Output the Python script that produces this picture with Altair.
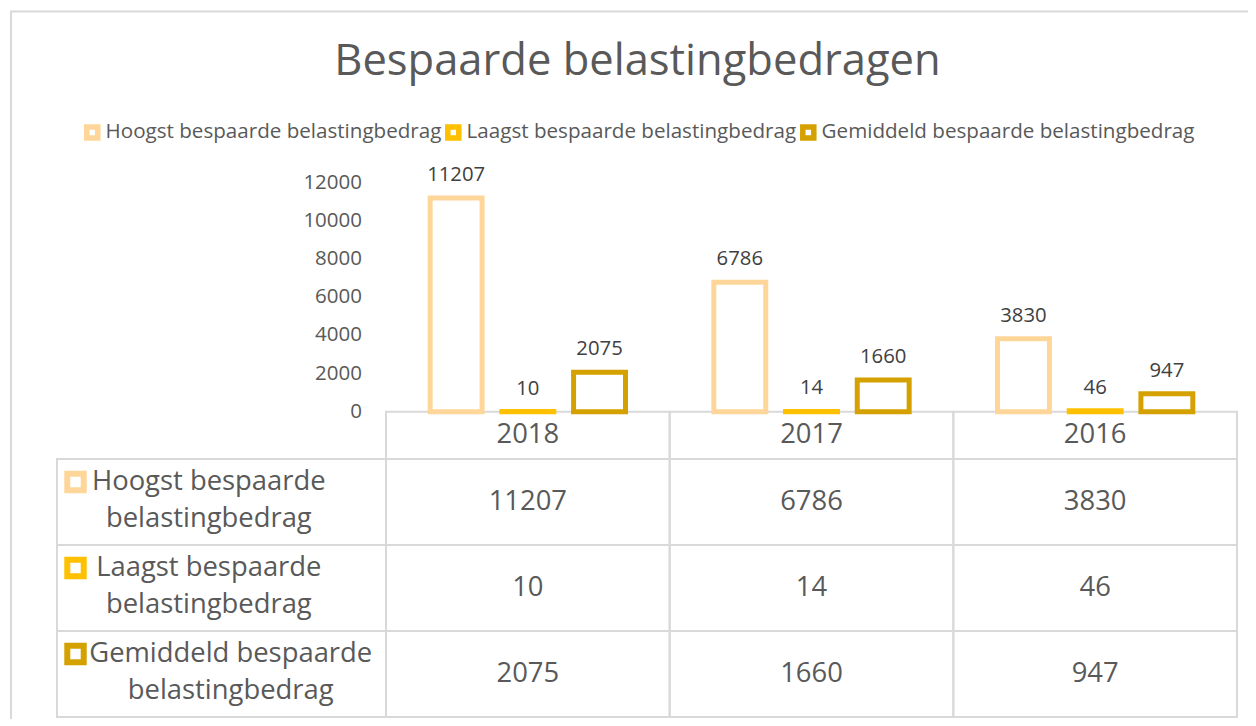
import altair as alt
import pandas as pd

# ---- data -------------------------------------------------------------
years = ["2018", "2017", "2016"]
series = [
    "Hoogst bespaarde belastingbedrag",
    "Laagst bespaarde belastingbedrag",
    "Gemiddeld bespaarde belastingbedrag",
]
row_line1 = ["Hoogst bespaarde", "Laagst bespaarde", "Gemiddeld bespaarde"]
row_line2 = ["belastingbedrag", "belastingbedrag", "belastingbedrag"]
hoogst = [11207, 6786, 3830]
laagst = [10, 14, 46]
gemiddeld = [2075, 1660, 947]
y_ticks = [0, 2000, 4000, 6000, 8000, 10000, 12000]
colors = ["#FFD699", "#FFC000", "#D4A100"]
chart_title = "Bespaarde belastingbedragen"

# ---- tables built from the arrays ----------------------------------------
values = [hoogst, laagst, gemiddeld]
long_df = pd.DataFrame(
    [
        {"series": s, "year": y, "value": values[i][j]}
        for i, s in enumerate(series)
        for j, y in enumerate(years)
    ]
)
rows_df = pd.DataFrame({"series": series, "l1": row_line1, "l2": row_line2})
years_df = pd.DataFrame({"year": years})
ticks_df = pd.DataFrame({"tick": y_ticks})
frame_df = pd.DataFrame({"k": [0]})

FONT = "Open Sans"
GREY = "#595959"
GRID = "#D9D9D9"

x_scale = alt.Scale(domain=years, range=[329, 1180], paddingInner=0, paddingOuter=0)
xoff_scale = alt.Scale(domain=series, paddingInner=0.276, paddingOuter=0.616)
y_bar = alt.Scale(domain=[0, 12000], range=[228.7, 0], nice=False)
row_scale = alt.Scale(domain=series, range=[276, 534], paddingInner=0, paddingOuter=0)
col_scale = alt.Scale(domain=series, range=colors)

legend_def = alt.Legend(
    orient="none",
    legendX=25,
    legendY=-61,
    direction="horizontal",
    title=None,
    symbolType="square",
    symbolSize=121,
    symbolStrokeWidth=5.5,
    symbolFillColor="white",
    labelFont=FONT,
    labelFontSize=20.6,
    labelColor=GREY,
    labelOffset=3,
    columnPadding=-6,
    labelLimit=600,
)

X = alt.X("year:N", scale=x_scale, axis=None, sort=years)
ROW = alt.Y("series:N", scale=row_scale, axis=None, sort=series)
STROKE = alt.Stroke("series:N", scale=col_scale, legend=legend_def, sort=series)

frame = alt.Chart(frame_df).mark_rect(fillOpacity=0, stroke=GRID, strokeWidth=2).encode(
    x=alt.value(-46), x2=alt.value(1300), y=alt.value(-171.5), y2=alt.value(700)
)

header_cells = alt.Chart(years_df).mark_rect(fillOpacity=0, stroke=GRID, strokeWidth=2).encode(
    x=X, y=alt.value(228.7), y2=alt.value(276)
)

body_cells = alt.Chart(long_df).mark_rect(fillOpacity=0, stroke=GRID, strokeWidth=2).encode(
    x=X, y=ROW
)

label_cells = alt.Chart(rows_df).mark_rect(fillOpacity=0, stroke=GRID, strokeWidth=2).encode(
    x=alt.value(0), x2=alt.value(329), y=ROW
)

header_text = alt.Chart(years_df).mark_text(
    font=FONT, fontSize=27.4, color=GREY, baseline="middle"
).encode(x=X, y=alt.value(252.3), text="year:N")

table_text = alt.Chart(long_df).mark_text(
    font=FONT, fontSize=27.4, color=GREY, baseline="middle"
).encode(x=X, y=ROW, text=alt.Text("value:Q", format="d"))

row_symbols = alt.Chart(rows_df).mark_point(
    shape="square", filled=False, size=270, strokeWidth=6, yOffset=-20, opacity=1
).encode(
    x=alt.value(18.5),
    y=ROW,
    stroke=STROKE,
)

row_labels = alt.Chart(rows_df).transform_calculate(
    label="datum.l1 + '\\n' + datum.l2",
    cx="35 + length(datum.l1) * 7.3",
).mark_text(
    font=FONT, fontSize=27.4, color=GREY, baseline="middle", align="center",
    lineBreak="\n", lineHeight=36.7, dy=-20
).encode(
    x=alt.X("cx:Q", scale=None, axis=None),
    y=ROW,
    text="label:N",
)

bars = alt.Chart(long_df).mark_bar(fill="white", strokeWidth=5).encode(
    x=X,
    xOffset=alt.XOffset("series:N", scale=xoff_scale, sort=series),
    y=alt.Y("value:Q", scale=y_bar, axis=None),
    stroke=STROKE,
)

bar_labels = alt.Chart(long_df).mark_text(
    font=FONT, fontSize=20.3, color="#404040", baseline="alphabetic", dy=-17
).encode(
    x=X,
    xOffset=alt.XOffset("series:N", scale=xoff_scale, sort=series),
    y=alt.Y("value:Q", scale=y_bar, axis=None),
    text=alt.Text("value:Q", format="d"),
)

tick_labels = alt.Chart(ticks_df).mark_text(
    font=FONT, fontSize=20.5, color=GREY, baseline="middle", align="right"
).encode(
    x=alt.value(305),
    y=alt.Y("tick:Q", scale=y_bar, axis=None),
    text=alt.Text("tick:Q", format="d"),
)

chart = (
    alt.layer(
        frame, header_cells, body_cells, label_cells, header_text, table_text,
        row_symbols, row_labels, tick_labels, bars, bar_labels,
    )
    .resolve_scale(y="independent")
    .properties(
        width=1180,
        height=534,
        background="white",
        title=alt.TitleParams(
            text=chart_title, font=FONT, fontSize=43.5, color=GREY, fontWeight="normal",
            anchor="middle", frame="group", dx=-9.5, baseline="alphabetic", offset=-108,
        ),
        autosize=alt.AutoSizeParams(type="none"),
        padding={"left": 49, "top": 175, "right": 11, "bottom": 2},
    )
    .configure_view(strokeWidth=0, stroke=None)
)

chart.save("out.html", embed_options={"renderer": "svg", "actions": False})
